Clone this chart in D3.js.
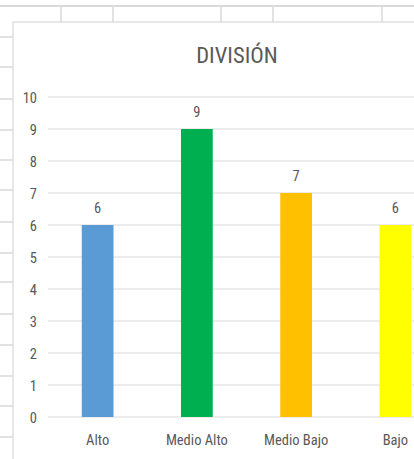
<!DOCTYPE html>
<html><head><meta charset="utf-8">
<script src="https://cdn.jsdelivr.net/npm/d3@7"></script>
<style>
html,body{margin:0;padding:0;background:#fff;}
svg{display:block;}
text{font-family:"Liberation Sans Narrow","Roboto Condensed","Open Sans",sans-serif;fill:#595959;}
</style></head>
<body>
<script>
const categories = ["Alto", "Medio Alto", "Medio Bajo", "Bajo"];
const values = [6, 9, 7, 6];
const colors = ["#5B9BD5", "#00B050", "#FFC000", "#FFFF00"];
const yTicks = [0,1,2,3,4,5,6,7,8,9,10];
const title = "DIVISIÓN";

const W = 414, H = 459;
const svg = d3.select("body").append("svg").attr("width", W).attr("height", H);

// spreadsheet background
const cellLine = "#D9D9D9";
const colLinesX = [61, 113, 221, 273, 382];
const rowLinesY = [37, 67, 99, 130, 160, 190, 222, 253, 282, 314, 345, 376, 406, 437];
svg.append("line").attr("x1",0).attr("x2",W).attr("y1",6).attr("y2",6).attr("stroke",cellLine).attr("stroke-width",2);
svg.selectAll(".col").data(colLinesX).join("line").attr("x1",d=>d).attr("x2",d=>d).attr("y1",6).attr("y2",22).attr("stroke",cellLine).attr("stroke-width",1.5);
svg.selectAll(".row").data(rowLinesY).join("line").attr("x1",0).attr("x2",13).attr("y1",d=>d).attr("y2",d=>d).attr("stroke",cellLine).attr("stroke-width",1.5);

// chart area border
svg.append("rect").attr("x",13).attr("y",22).attr("width",W+20).attr("height",H).attr("fill","#fff").attr("stroke","#D9D9D9").attr("stroke-width",1.2);

const x = d3.scaleBand().domain(categories).range([48, 445]).paddingInner(0.68).paddingOuter(0.34);
const y = d3.scaleLinear().domain([0, 10]).range([417, 97]);

// gridlines
svg.append("g").selectAll("line").data(yTicks).join("line")
  .attr("x1", 48).attr("x2", 445)
  .attr("y1", d => y(d)).attr("y2", d => y(d))
  .attr("stroke", "#D9D9D9").attr("stroke-width", 1.2);

// y axis labels
const yAxis = d3.axisLeft(y).tickValues(yTicks).tickSize(0).tickPadding(0);
const gy = svg.append("g").attr("transform","translate(37,0)").call(yAxis);
gy.select(".domain").remove();
gy.selectAll("text").style("font-size","14.5px").style("font-family","'Liberation Sans Narrow','Roboto Condensed',sans-serif").attr("fill","#595959").attr("dy","0.35em");

// bars
svg.append("g").selectAll("rect").data(categories).join("rect")
  .attr("x", d => x(d)).attr("width", x.bandwidth())
  .attr("y", (d,i) => y(values[i])).attr("height", (d,i) => y(0) - y(values[i]))
  .attr("fill", (d,i) => colors[i]);

// value labels
svg.append("g").selectAll("text").data(categories).join("text")
  .attr("x", d => x(d) + x.bandwidth()/2)
  .attr("y", (d,i) => y(values[i]) - 12)
  .attr("text-anchor","middle").style("font-size","14.5px")
  .text((d,i) => values[i]);

// x axis labels
const xAxis = d3.axisBottom(x).tickSize(0).tickPadding(0);
const gx = svg.append("g").attr("transform","translate(0,"+y(0)+")").call(xAxis);
gx.select(".domain").remove();
gx.selectAll("text").style("font-size","14.5px").style("font-family","'Liberation Sans Narrow','Roboto Condensed',sans-serif").attr("fill","#595959").attr("dy","0").attr("y",28);

// title
svg.append("text").attr("x",237).attr("y",63).attr("text-anchor","middle").style("font-size","22.5px").text(title);
</script>
</body></html>
